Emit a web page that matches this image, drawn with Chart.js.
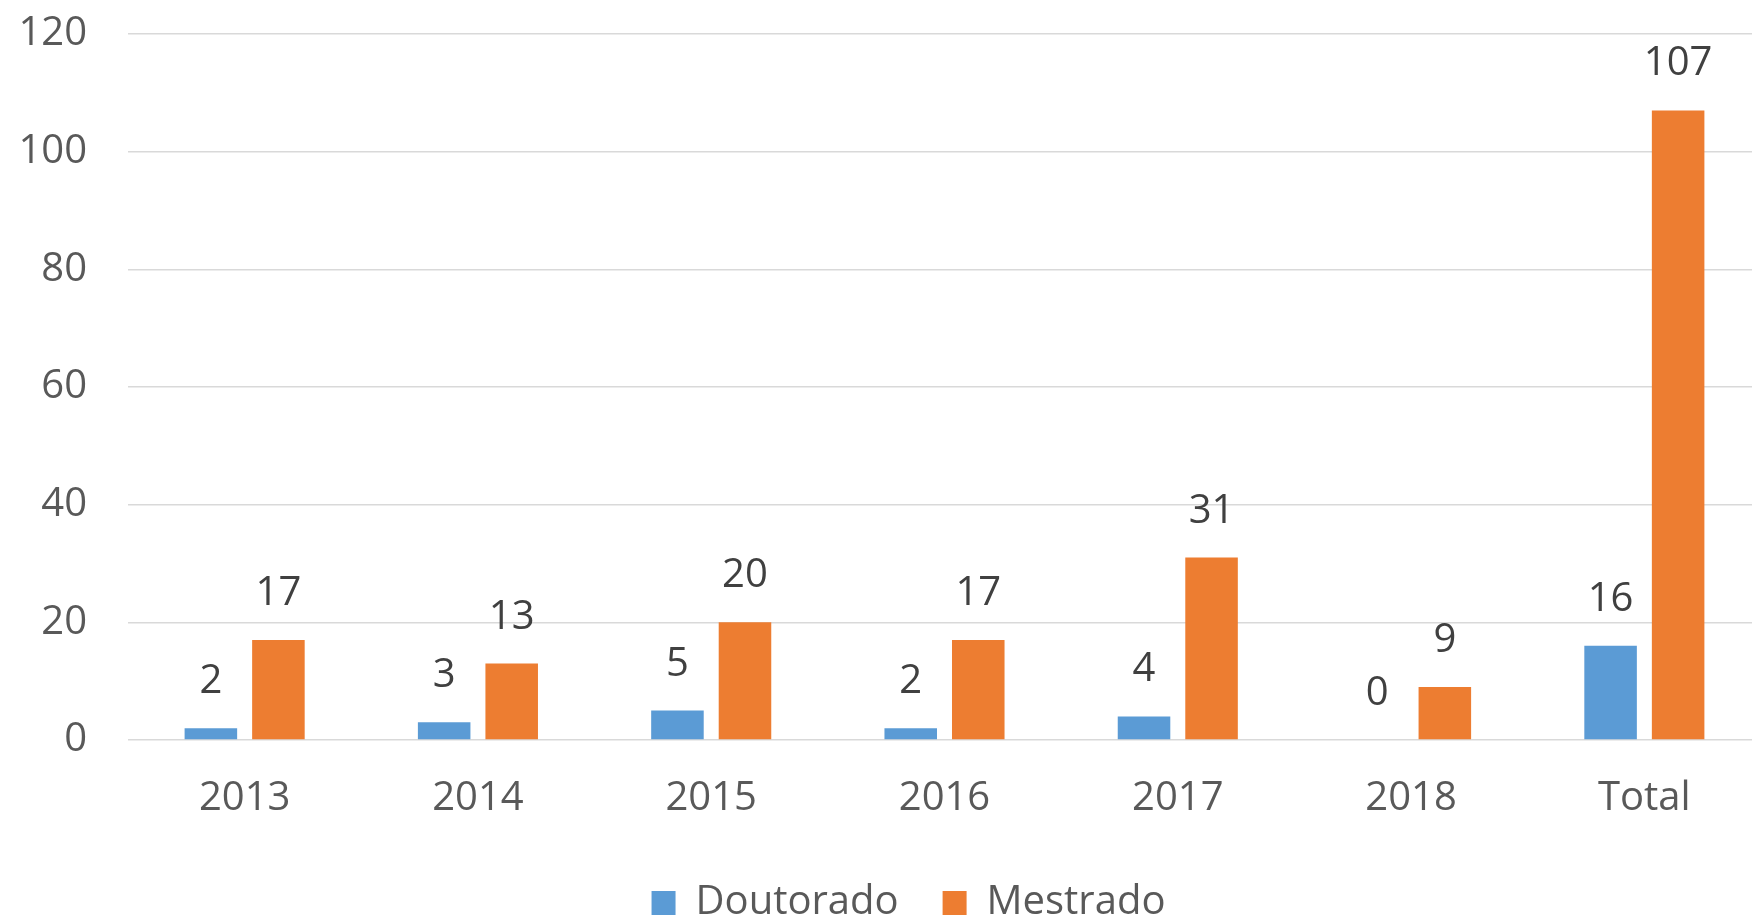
<!DOCTYPE html>
<html>
<head>
<meta charset="utf-8">
<title>Doutorado / Mestrado</title>
<script src="https://cdn.jsdelivr.net/npm/chart.js@4/dist/chart.umd.min.js"></script>
<style>
  html, body { margin: 0; padding: 0; background: #fff; overflow: hidden; }
  #chart { display: block; }
</style>
</head>
<body>
<canvas id="chart" width="1761" height="919"></canvas>
<script>
/* ------------------------------------------------------------
   DATA
------------------------------------------------------------ */
const categories = ["2013", "2014", "2015", "2016", "2017", "2018", "Total"];
const doutorado = [2, 3, 5, 2, 4, 0, 16];
const mestrado = [17, 13, 20, 17, 31, 9, 107];
const yTicks = [0, 20, 40, 60, 80, 100, 120];

/* ------------------------------------------------------------
   STYLE
------------------------------------------------------------ */
const FONT = "'Open Sans', 'Liberation Sans', sans-serif";
const AXIS_GREY = "#595959";
const LABEL_GREY = "#404040";

/* ------------------------------------------------------------
   VALUE LABELS ABOVE BARS
------------------------------------------------------------ */
const valueLabels = {
  id: "valueLabels",
  afterDatasetsDraw(chart) {
    const ctx = chart.ctx;
    ctx.save();
    ctx.font = "40px " + FONT;
    ctx.fillStyle = LABEL_GREY;
    ctx.textAlign = "center";
    ctx.textBaseline = "alphabetic";
    chart.data.datasets.forEach((ds, i) => {
      chart.getDatasetMeta(i).data.forEach((bar, j) => {
        ctx.fillText(String(ds.data[j]), bar.x, bar.y - 35);
      });
    });
    ctx.restore();
  }
};

/* legend sits a little right of the canvas centre in the original */
const legendShift = {
  id: "legendShift",
  afterLayout(chart) {
    if (chart.legend) chart.legend.left += 46;
  }
};

/* ------------------------------------------------------------
   CHART
------------------------------------------------------------ */
const ctx = document.getElementById("chart").getContext("2d");

new Chart(ctx, {
  type: "bar",
  data: {
    labels: categories,
    datasets: [
      { label: "Doutorado", data: doutorado, backgroundColor: "#5B9BD5" },
      { label: "Mestrado", data: mestrado, backgroundColor: "#ED7D31" }
    ]
  },
  options: {
    responsive: false,
    animation: false,
    devicePixelRatio: 1,
    categoryPercentage: 0.579,
    barPercentage: 0.778,
    layout: { padding: { left: 10, top: 34, right: 0, bottom: -14 } },
    plugins: {
      tooltip: { enabled: false },
      legend: {
        position: "bottom",
        labels: {
          boxWidth: 24,
          boxHeight: 24,
          padding: 44,
          color: AXIS_GREY,
          font: { family: FONT, size: 40 }
        }
      }
    },
    scales: {
      x: {
        grid: { display: false, drawTicks: false },
        border: { display: false },
        ticks: { color: AXIS_GREY, padding: 35, font: { family: FONT, size: 40 } },
        afterFit(scale) { scale.height = 99; }
      },
      y: {
        min: 0,
        max: 120,
        afterBuildTicks(scale) { scale.ticks = yTicks.map(v => ({ value: v })); },
        grid: { color: "#D9D9D9", lineWidth: 1.5, tickLength: 41, tickColor: "rgba(0,0,0,0)" },
        border: { display: false },
        ticks: { color: AXIS_GREY, padding: 0, font: { family: FONT, size: 40 } },
        afterFit(scale) { scale.width = 118; }
      }
    }
  },
  plugins: [valueLabels, legendShift]
});
</script>
</body>
</html>
